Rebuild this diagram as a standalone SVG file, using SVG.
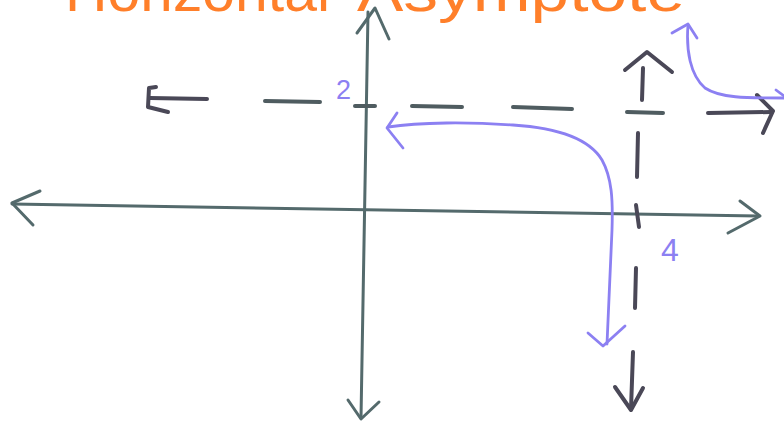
<svg xmlns="http://www.w3.org/2000/svg" width="784" height="425" viewBox="0 0 784 425">
<style>
.axis{fill:none;stroke:#546a6c;stroke-width:3;stroke-linecap:round;stroke-linejoin:round}
.dash{fill:none;stroke:#4f5c60;stroke-width:4;stroke-linecap:round;stroke-linejoin:round}
.ink{fill:none;stroke:#4a4857;stroke-width:4;stroke-linecap:round;stroke-linejoin:round}
.curve{fill:none;stroke:#8c80f2;stroke-width:2.8;stroke-linecap:round;stroke-linejoin:round}
.lbl{fill:#8c80f2;font-family:"Liberation Sans",Arial,sans-serif}
.title{fill:#ff7f2a;font-family:"Liberation Sans",Arial,sans-serif;font-size:58px}
</style>
<rect width="784" height="425" fill="#ffffff"/>
<g id="title">
<text class="title" x="65" y="11" textLength="265" lengthAdjust="spacingAndGlyphs">Horizontal</text>
<text class="title" x="357" y="11" textLength="328" lengthAdjust="spacingAndGlyphs">Asymptote</text>
</g>
<g id="axes">
<path class="axis" d="M368,12 L361,418"/>
<path class="axis" d="M357,33 L375,8 L389,39"/>
<path class="axis" d="M348,400 L361,419 L379,402"/>
<path class="axis" d="M12,204 L758,216"/>
<path class="axis" d="M40,191 L12,203 L33,225"/>
<path class="axis" d="M740,201 L760,216 L728,233"/>
</g>
<g id="horizontal-asymptote">
<path class="ink" d="M207,99 L150,98"/>
<path class="ink" d="M156,87 L149,88 L148,107 L168,112"/>
<path class="dash" d="M265,101 L320,102"/>
<path class="dash" d="M355,106 L375,106"/>
<path class="dash" d="M412,106 L462,107"/>
<path class="dash" d="M513,107 L572,109"/>
<path class="dash" d="M627,112 L663,113" stroke="#66767c"/>
<path class="ink" d="M708,113 L771,112"/>
<path class="ink" d="M757,95 L773,111 L763,133"/>
</g>
<g id="vertical-asymptote">
<path class="ink" d="M625,70 L647,52 L672,72"/>
<path class="ink" d="M643,68 L642,100"/>
<path class="ink" d="M638,133 L637,177"/>
<path class="ink" d="M636,205 L639,227"/>
<path class="ink" d="M636,268 L635,308"/>
<path class="ink" d="M633,352 L631,409"/>
<path class="ink" d="M615,387 L631,410 L643,388"/>
</g>
<g id="labels">
<text class="lbl" x="336" y="99" font-size="27">2</text>
<text class="lbl" x="661" y="261" font-size="32">4</text>
</g>
<g id="graph">
<path class="curve" d="M388,127 C420,122 470,122 513,125 C560,128 590,140 602,160 C612,178 613,200 612,230 L607,344"/>
<path class="curve" d="M397,113 L387,128 L403,148"/>
<path class="curve" d="M588,333 L603,346 L625,326"/>
<path class="curve" d="M688,25 C686,50 690,75 705,88 C720,98 745,98 784,98"/>
<path class="curve" d="M672,33 L688,24 L697,38"/>
<path class="curve" d="M776,90 L784,96"/>
</g>
</svg>
